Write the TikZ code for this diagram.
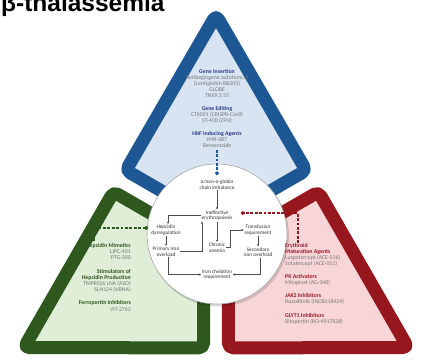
\documentclass[tikz,border=0pt]{standalone}
\usepackage{fontspec}
\setmainfont{Carlito}
\newfontfamily\titlefont{Liberation Sans}
\usetikzlibrary{arrows.meta}
\definecolor{blueB}{RGB}{30,88,148}
\definecolor{blueF}{RGB}{216,228,241}
\definecolor{blueH}{RGB}{45,62,140}
\definecolor{greenB}{RGB}{46,88,30}
\definecolor{greenF}{RGB}{224,238,215}
\definecolor{greenH}{RGB}{46,84,30}
\definecolor{redB}{RGB}{150,24,30}
\definecolor{redF}{RGB}{248,214,216}
\definecolor{redH}{RGB}{150,26,40}
\definecolor{bodygray}{RGB}{120,120,120}
\newcommand{\headtxt}[2]{\textbf{\textcolor{#1}{#2}}}
\begin{document}
\begin{tikzpicture}[x=1pt,y=-1pt,
  region/.style={line width=13pt, rounded corners=5pt, line join=round},
  blk/.style={font=\fontsize{5.8}{6.1}\selectfont, text=bodygray, inner sep=0pt},
  ctext/.style={font=\fontsize{5.3}{5.6}\selectfont, text=black!80, align=center, inner sep=0.8pt},
  flow/.style={draw=black!70, line width=0.6pt, -{Stealth[length=2.3pt,width=2.3pt]}},
  dconn/.style={line width=1.3pt, dash pattern=on 2.8pt off 1.6pt, -{Circle[length=3.6pt]}}]
\useasboundingbox (0,0) rectangle (425,359);
\fill[white] (0,0) rectangle (425,359);
\coordinate (O) at (216,236.7);
% regions
\draw[region, draw=blueB, fill=blueF] (216,15) -- (125.9,170.4) -- (216,222.3) -- (306.1,170.4) -- cycle;
\begin{scope}[rotate around={120:(O)}]
\draw[region, draw=greenB, fill=greenF] (216,15) -- (125.9,170.4) -- (216,222.3) -- (306.1,170.4) -- cycle;
\end{scope}
\begin{scope}[rotate around={240:(O)}]
\draw[region, draw=redB, fill=redF] (216,15) -- (125.9,170.4) -- (216,222.3) -- (306.1,170.4) -- cycle;
\end{scope}
% title
\node[anchor=base west, inner sep=0pt, font={\fontsize{24.5}{26}\selectfont\titlefont\bfseries}] (title) at (1,11.8) {β-thalassemia};
% central disc
\fill[black, opacity=0.15] (218.5,236) circle (70.5);
\node[circle, draw=black!35, line width=0.6pt, fill=white, minimum size=140pt, inner sep=0pt] (disc) at (217,234) {};
% blocks of text
\node[blk, anchor=north, align=center] (bluetxt) at (217,69.3) {\headtxt{blueH}{Gene Insertion}\\ Betibeglogene autotemcel\\ (Lentiglobin BB305)\\ GLOBE\\ TNS9.3.55\\[6.5pt] \headtxt{blueH}{Gene Editing}\\ CTX001 (CRISPR-Cas9)\\ ST-400 (ZFN)\\[6.5pt] \headtxt{blueH}{HbF Inducing Agents}\\ IMR-687\\ Benserazide};
\node[blk, anchor=north east, align=right] (greentxt) at (131,243) {\headtxt{greenH}{Hepcidin Mimetics}\\ LJPC-401\\ PTG-300\\[7.5pt] \headtxt{greenH}{Stimulators of}\\ \headtxt{greenH}{Hepcidin Production}\\ TMPRSS6 LNA (ASO)\\ SLN124 (siRNA)\\[7.5pt] \headtxt{greenH}{Ferroportin Inhibitors}\\ VIT-2763};
\node[blk, anchor=north west, align=left] (redtxt) at (285,243) {\headtxt{redH}{Erythroid}\\ \headtxt{redH}{Maturation Agents}\\ Luspatercept (ACE-536)\\ Sotatercept (ACE-011)\\[7pt] \headtxt{redH}{PK Activators}\\ Mitapivat (AG-348)\\[7pt] \headtxt{redH}{JAK2 Inhibitors}\\ Ruxolitinib (INCB018424)\\[7pt] \headtxt{redH}{GLYT1 Inhibitors}\\ Bitopertin (RO-4917838)};
% circle content
\node[ctext] (imb) at (217,184.5) {α/non-α-globin\\chain imbalance};
\node[ctext] (ineff) at (217,215.5) {Ineffective\\erythropoiesis};
\node[ctext] (hep) at (166,230) {Hepcidin\\dysregulation};
\node[ctext] (prim) at (166,251.5) {Primary iron\\overload};
\node[ctext] (anem) at (217,247.5) {Chronic\\anemia};
\node[ctext] (transf) at (258,230) {Transfusion\\requirement};
\node[ctext] (sec) at (258,252) {Secondary\\iron overload};
\node[ctext] (chel) at (217,274.5) {Iron chelation\\requirement};
\draw[flow] (imb) -- (ineff);
\draw[flow] (ineff.west) -| ([xshift=2pt]hep.north);
\draw[flow] (hep) -- (prim);
\draw[flow] (prim.east) -| ([xshift=-15pt]ineff.south);
\draw[flow] (ineff) -- (anem);
\draw[flow] (anem.east) -- ++(4,0) |- (transf.west);
\draw[flow] (transf) -- (sec);
\draw[flow] ([xshift=2pt]prim.south) |- (chel.west);
\draw[flow] ([xshift=2pt]sec.south) |- (chel.east);
% dashed links
\coordinate (bdot) at (217,175);
\coordinate (gstart) at (94,241);
\coordinate (gdot) at (148,228);
\coordinate (rstart) at (298,243);
\coordinate (rdot) at (241,213);
\draw[dconn, draw=blueB] ([yshift=-2pt]bluetxt.south) -- (bdot);
\draw[dconn, draw=greenB] (gstart) |- (gdot);
\draw[dconn, draw=redB] (rstart) |- (rdot);
\end{tikzpicture}
\end{document}
